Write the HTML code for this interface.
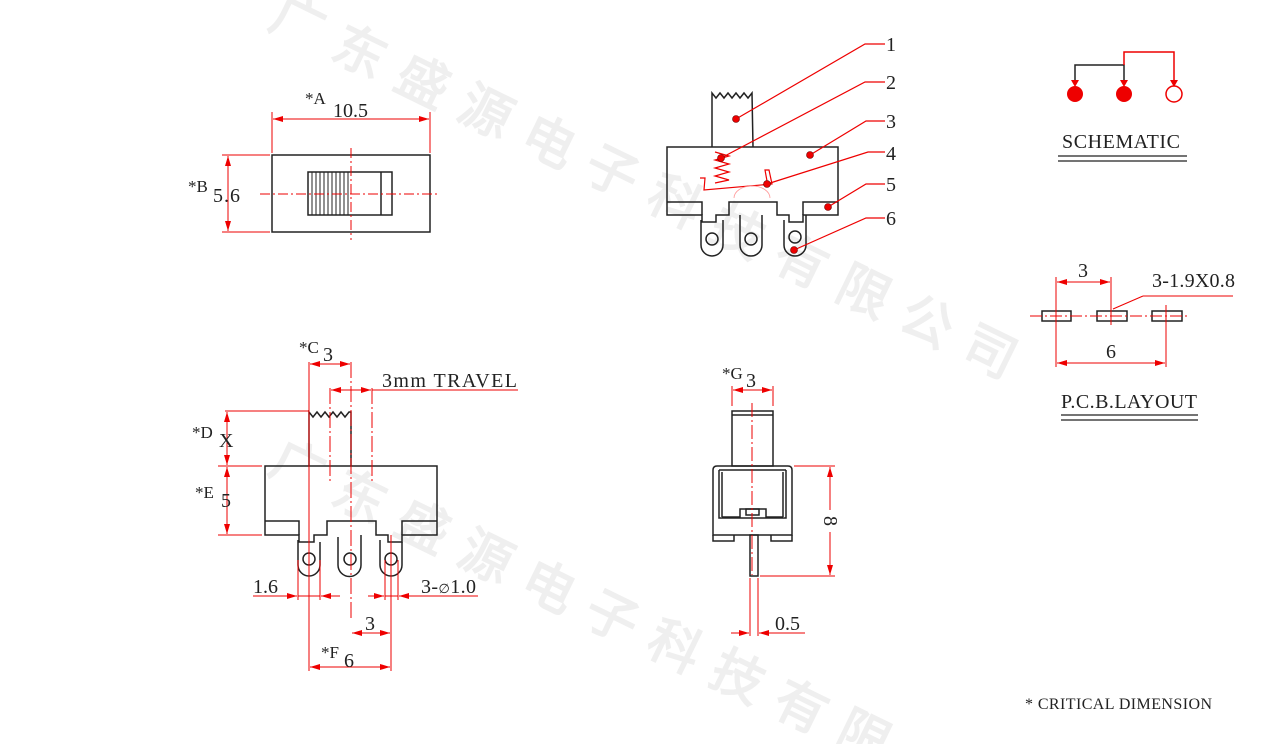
<!DOCTYPE html>
<html><head><meta charset="utf-8"><style>
html,body{margin:0;padding:0;background:#fff;}
svg{display:block;}
text{font-family:"Liberation Serif",serif;}
.wm{font-family:"Noto Sans CJK SC",sans-serif;font-size:52px;font-weight:bold;fill:#efefef;}
</style></head><body>
<svg width="1265" height="744" viewBox="0 0 1265 744" xmlns="http://www.w3.org/2000/svg">
<defs>
<marker id="ar" viewBox="0 0 10 6" refX="10" refY="3" markerWidth="10" markerHeight="6" orient="auto-start-reverse" markerUnits="userSpaceOnUse"><path d="M0,0 L10,3 L0,6 z" fill="#e00"/></marker>
</defs>
<g class="wm" text-anchor="middle">
<text transform="translate(290,38) rotate(26)">广</text>
<text transform="translate(352,68) rotate(26)">东</text>
<text transform="translate(415,98) rotate(26)">盛</text>
<text transform="translate(478,128) rotate(26)">源</text>
<text transform="translate(541,158) rotate(26)">电</text>
<text transform="translate(604,188) rotate(26)">子</text>
<text transform="translate(667,218) rotate(26)">科</text>
<text transform="translate(730,248) rotate(26)">技</text>
<text transform="translate(793,278) rotate(26)">有</text>
<text transform="translate(856,308) rotate(26)">限</text>
<text transform="translate(919,338) rotate(26)">公</text>
<text transform="translate(982,368) rotate(26)">司</text>
<text transform="translate(290,483) rotate(26)">广</text>
<text transform="translate(352,513) rotate(26)">东</text>
<text transform="translate(415,543) rotate(26)">盛</text>
<text transform="translate(478,573) rotate(26)">源</text>
<text transform="translate(541,603) rotate(26)">电</text>
<text transform="translate(604,633) rotate(26)">子</text>
<text transform="translate(667,663) rotate(26)">科</text>
<text transform="translate(730,693) rotate(26)">技</text>
<text transform="translate(793,723) rotate(26)">有</text>
<text transform="translate(856,753) rotate(26)">限</text>
</g>

<!-- TOP VIEW -->
<g fill="none" stroke="#222" stroke-width="1.5">
<rect x="272" y="155" width="158" height="77"/>
<rect x="308" y="172" width="84" height="43"/>
<line x1="381" y1="172" x2="381" y2="215"/>
</g>
<g stroke="#222" stroke-width="1">
<line x1="312" y1="172" x2="312" y2="215"/><line x1="316" y1="172" x2="316" y2="215"/><line x1="320" y1="172" x2="320" y2="215"/><line x1="324" y1="172" x2="324" y2="215"/><line x1="328" y1="172" x2="328" y2="215"/><line x1="332" y1="172" x2="332" y2="215"/><line x1="336" y1="172" x2="336" y2="215"/><line x1="340" y1="172" x2="340" y2="215"/><line x1="344" y1="172" x2="344" y2="215"/><line x1="348" y1="172" x2="348" y2="215"/>
</g>
<g stroke="#e00" stroke-width="1" fill="none">
<line x1="351" y1="148" x2="351" y2="240" stroke-dasharray="10,3,2,3"/>
<line x1="260" y1="194" x2="440" y2="194" stroke-dasharray="10,3,2,3"/>
<line x1="272" y1="112" x2="272" y2="153"/><line x1="430" y1="112" x2="430" y2="153"/>
<line x1="273" y1="119" x2="429" y2="119" marker-start="url(#ar)" marker-end="url(#ar)"/>
<line x1="222" y1="155" x2="270" y2="155"/><line x1="222" y1="232" x2="270" y2="232"/>
<line x1="228" y1="156" x2="228" y2="231" marker-start="url(#ar)" marker-end="url(#ar)"/>
</g>
<text x="305" y="104" font-size="17" fill="#222">*A</text><text x="333" y="117" font-size="20" fill="#222" textLength="35">10.5</text>
<text x="188" y="192" font-size="17" fill="#222">*B</text><text x="213" y="202" font-size="20" fill="#222" textLength="27">5.6</text>

<!-- COMPONENT VIEW -->
<g fill="none" stroke="#222" stroke-width="1.5">
<path d="M712,147 L712,93 L716,98 L720,93 L724,98 L728,93 L732,98 L736,93 L740,98 L744,93 L748,98 L752,93 L753,147"/>
<path d="M667,147 L838,147 L838,215 L803,215 L803,222 L789,222 L789,215 L777,215 L777,202 L729,202 L729,215 L716,215 L716,222 L702,222 L702,215 L667,215 Z"/>
<path d="M667,202 L702,202 L702,215"/><path d="M803,215 L803,202 L838,202"/>
<path d="M701,220 L701,245 A11,11 0 0 0 723,245 L723,220"/>
<path d="M740,215 L740,245 A11,11 0 0 0 762,245 L762,215"/>
<path d="M784,220 L784,245 A11,11 0 0 0 806,245 L806,215"/>
<circle cx="712" cy="239" r="6"/><circle cx="751" cy="239" r="6"/><circle cx="795" cy="237" r="6"/>
</g>
<g fill="none" stroke="#e00" stroke-width="1.2">
<path d="M715,152 L729,156 L715,160 L729,164 L715,168 L729,172 L715,176 L729,180 L715,183"/>
<path d="M700,178 L705,178 L704,190 L772,184 L769,170 L765,170 L767,181"/>
<path d="M734,198 A18,12 0 0 1 770,198" stroke="#f99" stroke-width="0.8"/>
<path d="M736,119 L865,44 L885,44"/>
<path d="M721,158 L865,82 L885,82"/>
<path d="M810,155 L866,121 L885,121"/>
<path d="M767,184 L868,152 L885,152"/>
<path d="M828,207 L866,184 L885,184"/>
<path d="M794,250 L866,218 L885,218"/>
</g>
<g fill="#e00" stroke="#600" stroke-width="0.6">
<circle cx="736" cy="119" r="3.5"/><circle cx="721" cy="158" r="3.5"/><circle cx="810" cy="155" r="3.5"/><circle cx="767" cy="184" r="3.5"/><circle cx="828" cy="207" r="3.5"/><circle cx="794" cy="250" r="3.5"/>
</g>
<g font-size="20" fill="#222">
<text x="886" y="51">1</text><text x="886" y="89">2</text><text x="886" y="128">3</text><text x="886" y="160">4</text><text x="886" y="191">5</text><text x="886" y="225">6</text>
</g>

<!-- SIDE VIEW -->
<g fill="none" stroke="#222" stroke-width="1.5">
<path d="M309,466 L309,412 L313,417 L317,412 L321,417 L325,412 L329,417 L333,412 L337,417 L341,412 L345,417 L349,412 L351,412 L351,466"/>
<path d="M265,466 L437,466 L437,535 L402,535 L402,542 L388,542 L388,535 L376,535 L376,521 L327,521 L327,535 L314,535 L314,542 L299,542 L299,535 L265,535 Z"/>
<path d="M265,521 L299,521 L299,535"/><path d="M402,535 L402,521 L437,521"/>
<path d="M298,540 L298,565 A11,11 0 0 0 320,565 L320,542"/>
<path d="M338,537 L338,565 A11,11 0 0 0 361,565 L361,535"/>
<path d="M380,540 L380,565 A11,11 0 0 0 402,565 L402,542"/>
<circle cx="309" cy="559" r="6"/><circle cx="350" cy="559" r="6"/><circle cx="391" cy="559" r="6"/>
</g>
<g fill="none" stroke="#e00" stroke-width="1">
<line x1="351" y1="362" x2="351" y2="620" stroke-dasharray="16,3,2,3"/>
<line x1="330" y1="388" x2="330" y2="482" stroke-dasharray="16,3,2,3"/>
<line x1="372" y1="388" x2="372" y2="482" stroke-dasharray="16,3,2,3"/>
<line x1="309" y1="362" x2="309" y2="671"/>
<line x1="391" y1="535" x2="391" y2="671"/>
<line x1="310" y1="364" x2="350" y2="364" marker-start="url(#ar)" marker-end="url(#ar)"/>
<line x1="331" y1="390" x2="371" y2="390" marker-start="url(#ar)" marker-end="url(#ar)"/>
<line x1="372" y1="390" x2="518" y2="390"/>
<path d="M225,411 L309,411"/>
<line x1="218" y1="466" x2="262" y2="466"/><line x1="218" y1="535" x2="262" y2="535"/>
<line x1="227" y1="412" x2="227" y2="465" marker-start="url(#ar)" marker-end="url(#ar)"/>
<line x1="227" y1="467" x2="227" y2="534" marker-start="url(#ar)" marker-end="url(#ar)"/>
<line x1="298" y1="560" x2="298" y2="600"/><line x1="320" y1="560" x2="320" y2="600"/>
<line x1="385" y1="560" x2="385" y2="600"/><line x1="398" y1="560" x2="398" y2="600"/>
<line x1="253" y1="596" x2="297" y2="596" marker-end="url(#ar)"/>
<line x1="340" y1="596" x2="321" y2="596" marker-end="url(#ar)"/>
<line x1="298" y1="596" x2="320" y2="596"/>
<line x1="368" y1="596" x2="384" y2="596" marker-end="url(#ar)"/>
<line x1="478" y1="596" x2="399" y2="596" marker-end="url(#ar)"/>
<line x1="385" y1="596" x2="398" y2="596"/>
<line x1="352" y1="633" x2="390" y2="633" marker-start="url(#ar)" marker-end="url(#ar)"/>
<line x1="310" y1="667" x2="390" y2="667" marker-start="url(#ar)" marker-end="url(#ar)"/>
</g>
<g fill="#222">
<text x="299" y="353" font-size="17">*C</text><text x="323" y="361" font-size="20">3</text>
<text x="382" y="387" font-size="20" textLength="135">3mm  TRAVEL</text>
<text x="192" y="438" font-size="17">*D</text><text x="219" y="447" font-size="20">X</text>
<text x="195" y="498" font-size="17">*E</text><text x="221" y="507" font-size="20">5</text>
<text x="253" y="593" font-size="20">1.6</text>
<text x="421" y="593" font-size="20" textLength="55">3-<tspan font-size="13">∅</tspan>1.0</text>
<text x="365" y="630" font-size="20">3</text>
<text x="321" y="658" font-size="17">*F</text><text x="344" y="667" font-size="20">6</text>
</g>

<!-- END VIEW -->
<g fill="none" stroke="#222" stroke-width="1.5">
<rect x="732" y="411" width="41" height="55"/>
<line x1="732" y1="415" x2="773" y2="415"/>
<path d="M713,470 Q713,466 717,466 L788,466 Q792,466 792,470 L792,535 L713,535 Z"/>
<path d="M719,470 L719,518 L786,518 L786,470"/>
<path d="M719,470 L786,470 M722,472 L722,517 M783,472 L783,517"/>
<path d="M722,517 L740,517 L740,509 L766,509 L766,517 L783,517"/>
<rect x="746" y="509" width="13" height="6"/>
<path d="M713,535 L713,541 L734,541 L734,535 M771,535 L771,541 L792,541 L792,535"/>
<rect x="750" y="535" width="8" height="41"/>
</g>
<g fill="none" stroke="#e00" stroke-width="1">
<line x1="752" y1="403" x2="752" y2="575" stroke-dasharray="14,3,2,3"/>
<line x1="732" y1="386" x2="732" y2="406"/><line x1="773" y1="386" x2="773" y2="406"/>
<line x1="733" y1="390" x2="772" y2="390" marker-start="url(#ar)" marker-end="url(#ar)"/>
<line x1="794" y1="466" x2="835" y2="466"/><line x1="760" y1="576" x2="835" y2="576"/>
<line x1="830" y1="467" x2="830" y2="510" marker-start="url(#ar)"/>
<line x1="830" y1="532" x2="830" y2="575" marker-end="url(#ar)"/>
<line x1="750" y1="578" x2="750" y2="636"/><line x1="758" y1="578" x2="758" y2="636"/>
<line x1="731" y1="633" x2="749" y2="633" marker-end="url(#ar)"/>
<line x1="805" y1="633" x2="759" y2="633" marker-end="url(#ar)"/>
</g>
<g fill="#222">
<text x="722" y="379" font-size="17">*G</text><text x="746" y="387" font-size="20">3</text>
<text transform="translate(824,521) rotate(90)" font-size="20" text-anchor="middle">8</text>
<text x="775" y="630" font-size="20">0.5</text>
</g>

<!-- SCHEMATIC -->
<path d="M1075,85 L1075,65 L1124,65 L1124,85" fill="none" stroke="#222" stroke-width="1.5"/>
<path d="M1124,65 L1124,52 L1174,52 L1174,85" fill="none" stroke="#e00" stroke-width="1.5"/>
<path d="M1071,80 L1079,80 L1075,87 Z M1120,80 L1128,80 L1124,87 Z M1170,80 L1178,80 L1174,87 Z" fill="#e00"/>
<circle cx="1075" cy="94" r="8" fill="#e00"/><circle cx="1124" cy="94" r="8" fill="#e00"/>
<circle cx="1174" cy="94" r="8" fill="#fff" stroke="#e00" stroke-width="1.5"/>
<text x="1062" y="148" font-size="20" fill="#222" textLength="118">SCHEMATIC</text>
<line x1="1058" y1="156" x2="1187" y2="156" stroke="#222" stroke-width="1.2"/>
<line x1="1058" y1="161" x2="1187" y2="161" stroke="#222" stroke-width="1.2"/>

<!-- PCB -->
<g fill="none" stroke="#222" stroke-width="1.5">
<rect x="1042" y="311" width="29" height="10"/><rect x="1097" y="311" width="30" height="10"/><rect x="1152" y="311" width="30" height="10"/>
</g>
<g fill="none" stroke="#e00" stroke-width="1">
<line x1="1030" y1="316" x2="1188" y2="316" stroke-dasharray="12,3,2,3"/>
<line x1="1056" y1="277" x2="1056" y2="367"/><line x1="1111" y1="277" x2="1111" y2="325"/><line x1="1166" y1="305" x2="1166" y2="367"/>
<line x1="1057" y1="282" x2="1110" y2="282" marker-start="url(#ar)" marker-end="url(#ar)"/>
<line x1="1057" y1="363" x2="1165" y2="363" marker-start="url(#ar)" marker-end="url(#ar)"/>
<path d="M1143,296 L1233,296 M1143,296 L1113,309"/>
</g>
<g fill="#222" font-size="20">
<text x="1078" y="277">3</text><text x="1106" y="358">6</text>
<text x="1152" y="287" textLength="83">3-1.9X0.8</text>
<text x="1061" y="408" textLength="136">P.C.B.LAYOUT</text>
</g>
<line x1="1061" y1="415" x2="1198" y2="415" stroke="#222" stroke-width="1.2"/>
<line x1="1061" y1="420" x2="1198" y2="420" stroke="#222" stroke-width="1.2"/>

<text x="1025" y="709" font-size="16" fill="#222" textLength="187">* CRITICAL  DIMENSION</text>
</svg>
</body></html>
